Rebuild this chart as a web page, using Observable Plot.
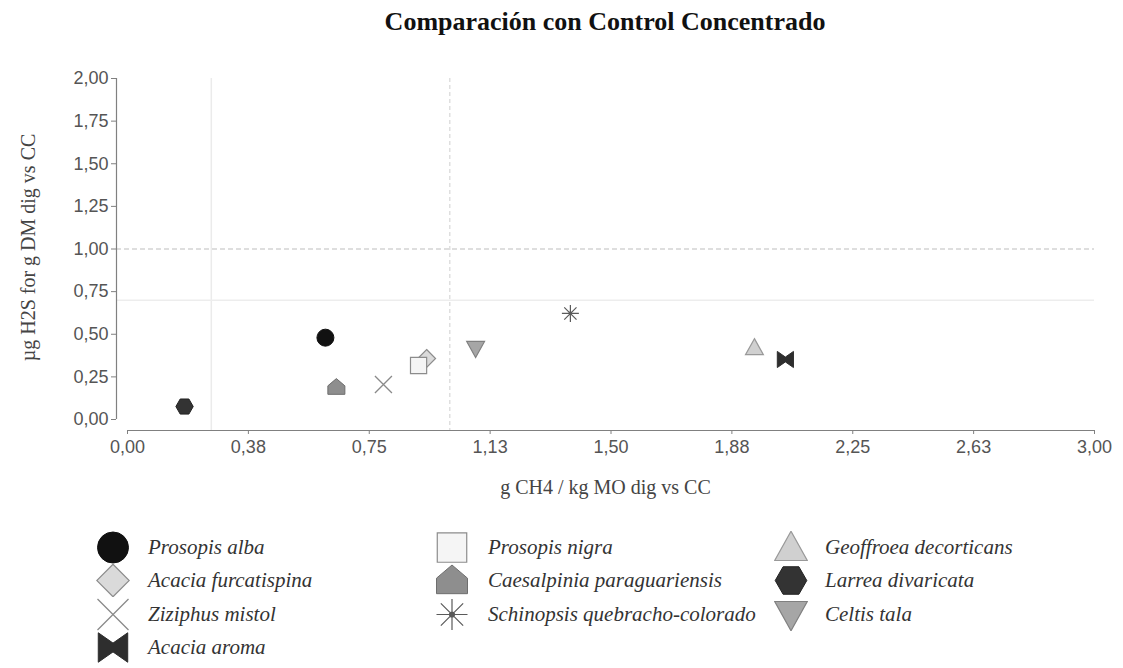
<!DOCTYPE html>
<html><head><meta charset="utf-8">
<script src="https://cdn.jsdelivr.net/npm/d3@7"></script>
<script src="https://cdn.jsdelivr.net/npm/@observablehq/plot@0.6"></script>
<style>
body{margin:0;background:#fff;}
#wrap{position:relative;width:1123px;height:668px;overflow:hidden;background:#fff;}
#title{height:50px;box-sizing:border-box;padding-top:8px;padding-left:116px;width:1094px;text-align:center;font:bold 26px "Liberation Serif","Times New Roman",serif;line-height:28px;color:#111;}
#chart svg{display:block;}
.item{position:absolute;display:flex;align-items:center;height:33px;}
.item svg{display:block;flex:none;}
.item span{font:italic 21px "Liberation Serif","Times New Roman",serif;color:#333;white-space:nowrap;}
</style></head>
<body>
<div id="wrap">
  <div id="title">Comparación con Control Concentrado</div>
  <div id="chart"></div>
  <div id="legend"></div>
</div>
<script>
// ---- data ----
const species = ["Prosopis alba","Acacia furcatispina","Ziziphus mistol","Acacia aroma","Prosopis nigra","Caesalpinia paraguariensis","Schinopsis quebracho-colorado","Geoffroea decorticans","Larrea divaricata","Celtis tala"];
const xValues = [0.614, 0.928, 0.794, 2.041, 0.903, 0.648, 1.374, 1.945, 0.177, 1.080];
const yValues = [0.480, 0.358, 0.205, 0.352, 0.317, 0.190, 0.622, 0.422, 0.076, 0.416];
const xTickValues = [0, 0.375, 0.75, 1.125, 1.5, 1.875, 2.25, 2.625, 3];
const xTickLabels = ["0,00","0,38","0,75","1,13","1,50","1,88","2,25","2,63","3,00"];
const yTickValues = [0, 0.25, 0.5, 0.75, 1, 1.25, 1.5, 1.75, 2];
const yTickLabels = ["0,00","0,25","0,50","0,75","1,00","1,25","1,50","1,75","2,00"];
const solidRefX = [0.26];
const dashedRefX = [1.0];
const solidRefY = [0.70];
const dashedRefY = [1.0];
const xTitle = "g CH4 / kg MO dig vs CC";
const yTitle = "µg H2S for g DM dig vs CC";

// ---- symbols ----
const R = s => Math.sqrt(s / Math.PI);
function poly(c, pts){ c.moveTo(pts[0][0], pts[0][1]); for (let i = 1; i < pts.length; i++) c.lineTo(pts[i][0], pts[i][1]); c.closePath(); }
const shapes = {
  circle: {draw(c, s){ const r = R(s); c.moveTo(r, 0); c.arc(0, 0, r, 0, 2 * Math.PI); }},
  diamond: {draw(c, s){ const r = R(s) * 1.05; poly(c, [[0,-r],[r,0],[0,r],[-r,0]]); }},
  times: {draw(c, s){ const r = R(s); c.moveTo(-r,-r); c.lineTo(r,r); c.moveTo(r,-r); c.lineTo(-r,r); }},
  bowtie: {draw(c, s){ const r = R(s) * 0.95; poly(c, [[-r,-r],[0,-0.3*r],[r,-r],[r,r],[0,0.3*r],[-r,r]]); }},
  square: {draw(c, s){ const r = R(s) * 0.95; poly(c, [[-r,-r],[r,-r],[r,r],[-r,r]]); }},
  house: {draw(c, s){ const r = R(s); poly(c, [[0,-r],[r,-0.15*r],[r,0.85*r],[-r,0.85*r],[-r,-0.15*r]]); }},
  asterisk: {draw(c, s){ const r = R(s); const d = r * 0.72;
    c.moveTo(-r,0); c.lineTo(r,0); c.moveTo(0,-r); c.lineTo(0,r);
    c.moveTo(-d,-d); c.lineTo(d,d); c.moveTo(d,-d); c.lineTo(-d,d);
    const q = r * 0.16; c.moveTo(q,0); c.arc(0,0,q,0,2*Math.PI); }},
  triUp: {draw(c, s){ const r = R(s) * 1.05; poly(c, [[0,-r],[r,0.8*r],[-r,0.8*r]]); }},
  hexagon: {draw(c, s){ const r = R(s) * 1.02; const h = r * 0.87; poly(c, [[-r,0],[-r/2,-h],[r/2,-h],[r,0],[r/2,h],[-r/2,h]]); }},
  triDown: {draw(c, s){ const r = R(s) * 1.05; poly(c, [[-r,-0.8*r],[r,-0.8*r],[0,r]]); }}
};
const style = {
  "Prosopis alba": {shape: shapes.circle, fill: "#111", stroke: "#111", sw: 1},
  "Acacia furcatispina": {shape: shapes.diamond, fill: "#dadada", stroke: "#8c8c8c", sw: 1.2},
  "Ziziphus mistol": {shape: shapes.times, fill: "none", stroke: "#8a8a8a", sw: 1.3},
  "Acacia aroma": {shape: shapes.bowtie, fill: "#2e2e2e", stroke: "#2e2e2e", sw: 1},
  "Prosopis nigra": {shape: shapes.square, fill: "#f5f5f5", stroke: "#8c8c8c", sw: 1.2},
  "Caesalpinia paraguariensis": {shape: shapes.house, fill: "#8e8e8e", stroke: "#6e6e6e", sw: 1},
  "Schinopsis quebracho-colorado": {shape: shapes.asterisk, fill: "#222", stroke: "#5a5a5a", sw: 1.2},
  "Geoffroea decorticans": {shape: shapes.triUp, fill: "#d0d0d0", stroke: "#999", sw: 1.2},
  "Larrea divaricata": {shape: shapes.hexagon, fill: "#333", stroke: "#222", sw: 1},
  "Celtis tala": {shape: shapes.triDown, fill: "#a6a6a6", stroke: "#808080", sw: 1.2}
};

const data = species.map((s, i) => ({species: s, x: xValues[i], y: yValues[i]}));
const xLab = new Map(xTickValues.map((v, i) => [v, xTickLabels[i]]));
const yLab = new Map(yTickValues.map((v, i) => [v, yTickLabels[i]]));

const dots = species.map(s => Plot.dot(data.filter(d => d.species === s), {
  x: "x", y: "y", r: 8.5, symbol: style[s].shape, fill: style[s].fill, stroke: style[s].stroke, strokeWidth: style[s].sw
}));

const chart = Plot.plot({
  width: 1123, height: 475,
  marginTop: 28, marginBottom: 95, marginLeft: 116, marginRight: 29,
  x: {domain: [0, 3], insetLeft: 11},
  y: {domain: [0, 2], insetBottom: 11},
  style: {fontFamily: "'Liberation Sans', Arial, sans-serif", fontSize: "18px", background: "white", color: "#555"},
  marks: [
    Plot.ruleX(solidRefX, {stroke: "#ebebeb", strokeWidth: 1.5}),
    Plot.ruleY(solidRefY, {stroke: "#ededed", strokeWidth: 1.5}),
    Plot.ruleX(dashedRefX, {stroke: "#cfcfcf", strokeWidth: 1, strokeDasharray: "4,3"}),
    Plot.ruleY(dashedRefY, {stroke: "#bdbdbd", strokeWidth: 1, strokeDasharray: "5,3"}),
    Plot.ruleX([0], {y1: 0, y2: 2, dx: -11, stroke: "#808080", strokeWidth: 1.2}),
    Plot.ruleY([0], {x1: 0, x2: 3, dy: 11, stroke: "#808080", strokeWidth: 1.2}),
    Plot.axisY({ticks: yTickValues, tickFormat: d => yLab.get(d), tickSize: 5, tickPadding: 3, stroke: "#808080", fill: "#555", label: null, fontSize: 18}),
    Plot.axisX({ticks: xTickValues, tickFormat: d => xLab.get(d), tickSize: 4, tickPadding: 6, stroke: "#808080", fill: "#555", label: null, fontSize: 18}),
    Plot.text([xTitle], {frameAnchor: "bottom", dy: 63, textAnchor: "middle", fontFamily: "'Liberation Serif', 'Times New Roman', serif", fontSize: 20, fill: "#444"}),
    Plot.text([yTitle], {frameAnchor: "left", dx: -88, dy: -7, rotate: -90, textAnchor: "middle", fontFamily: "'Liberation Serif', 'Times New Roman', serif", fontSize: 20, fill: "#444"}),
    ...dots
  ]
});
document.getElementById("chart").append(chart);

// ---- legend ----
const legend = document.getElementById("legend");
const colLeft = [96, 435, 774];
const columns = [[0,1,2,3],[4,5,6],[7,8,9]];
columns.forEach((col, ci) => {
  col.forEach((si, ri) => {
    const s = species[si], st = style[s];
    const item = document.createElement("div");
    item.className = "item";
    item.style.left = colLeft[ci] + "px";
    item.style.top = (531 + ri * 33.4) + "px";
    const svg = d3.create("svg").attr("width", 34).attr("height", 33);
    const p = d3.path();
    st.shape.draw(p, Math.PI * 15.5 * 15.5);
    svg.append("path").attr("transform", "translate(17,16.5)").attr("d", p.toString())
      .attr("fill", st.fill).attr("stroke", st.stroke).attr("stroke-width", st.sw);
    item.append(svg.node());
    const span = document.createElement("span");
    span.textContent = s;
    span.style.marginLeft = (ci === 0 ? 18 : ci === 1 ? 19 : 17) + "px";
    item.append(span);
    legend.append(item);
  });
});
</script>
</body></html>
